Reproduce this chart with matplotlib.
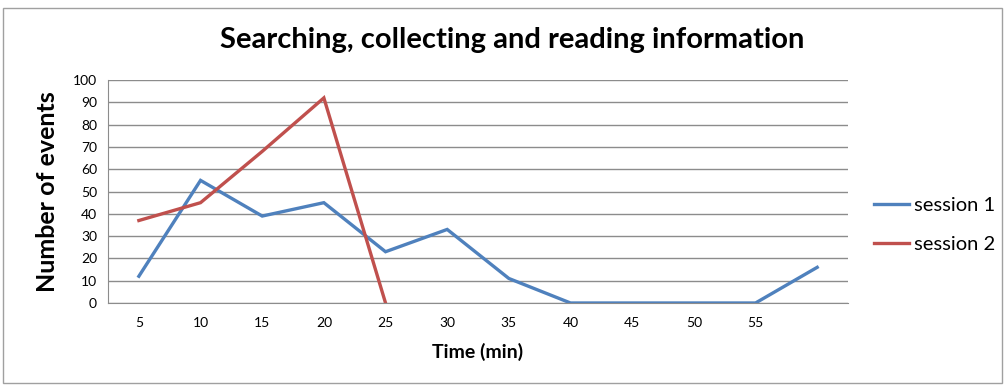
import matplotlib
matplotlib.use("Agg")
import matplotlib.pyplot as plt
from matplotlib.patches import Rectangle

categories = ["5", "10", "15", "20", "25", "30", "35", "40", "45", "50", "55", ""]
session1 = [12, 55, 39, 45, 23, 33, 11, 0, 0, 0, 0, 16]
session2 = [37, 45, 68, 92, 0]

plt.rcParams['font.family'] = ['Lato', 'DejaVu Sans']

fig = plt.figure(figsize=(10.05, 3.85), dpi=100)
fig.patches.append(Rectangle((0.003, 0.005), 0.994, 0.975, transform=fig.transFigure,
                             fill=False, edgecolor='#a0a0a0', linewidth=1))
ax = fig.add_axes([0.1075, 0.213, 0.7363, 0.579])

x1 = list(range(len(session1)))
x2 = list(range(len(session2)))
ax.plot(x1, session1, color='#4F81BD', linewidth=2.4, label='session 1', solid_joinstyle='miter')
ax.plot(x2, session2, color='#C0504D', linewidth=2.4, label='session 2', solid_joinstyle='miter')

ax.set_xlim(-0.5, len(categories) - 0.5)
ax.set_ylim(0, 100)
ax.set_yticks(range(0, 101, 10))
ax.set_xticks(range(len(categories)))
ax.set_xticklabels(categories)
ax.tick_params(axis='both', length=0, labelsize=10, colors='black')
ax.tick_params(axis='x', pad=10)
ax.tick_params(axis='y', pad=8)
ax.grid(axis='y', color='#8c8c8c', linewidth=1)
ax.set_axisbelow(True)
for s in ['top', 'right']:
    ax.spines[s].set_visible(False)
ax.spines['left'].set_color('#8c8c8c')
ax.spines['bottom'].set_color('#8c8c8c')

fig.text(0.510, 0.895, 'Searching, collecting and reading information', ha='center', va='center',
         fontsize=21, fontweight='bold')
ax.set_xlabel('Time (min)', fontsize=14, fontweight='bold', labelpad=10)
ax.set_ylabel('Number of events', fontsize=18, fontweight='bold', labelpad=10)

leg = ax.legend(loc='center left', bbox_to_anchor=(1.01, 0.35), frameon=False, fontsize=14.5,
                handlelength=1.75, handletextpad=0.25, labelspacing=1.1)

fig.savefig('out.png', dpi=100)
